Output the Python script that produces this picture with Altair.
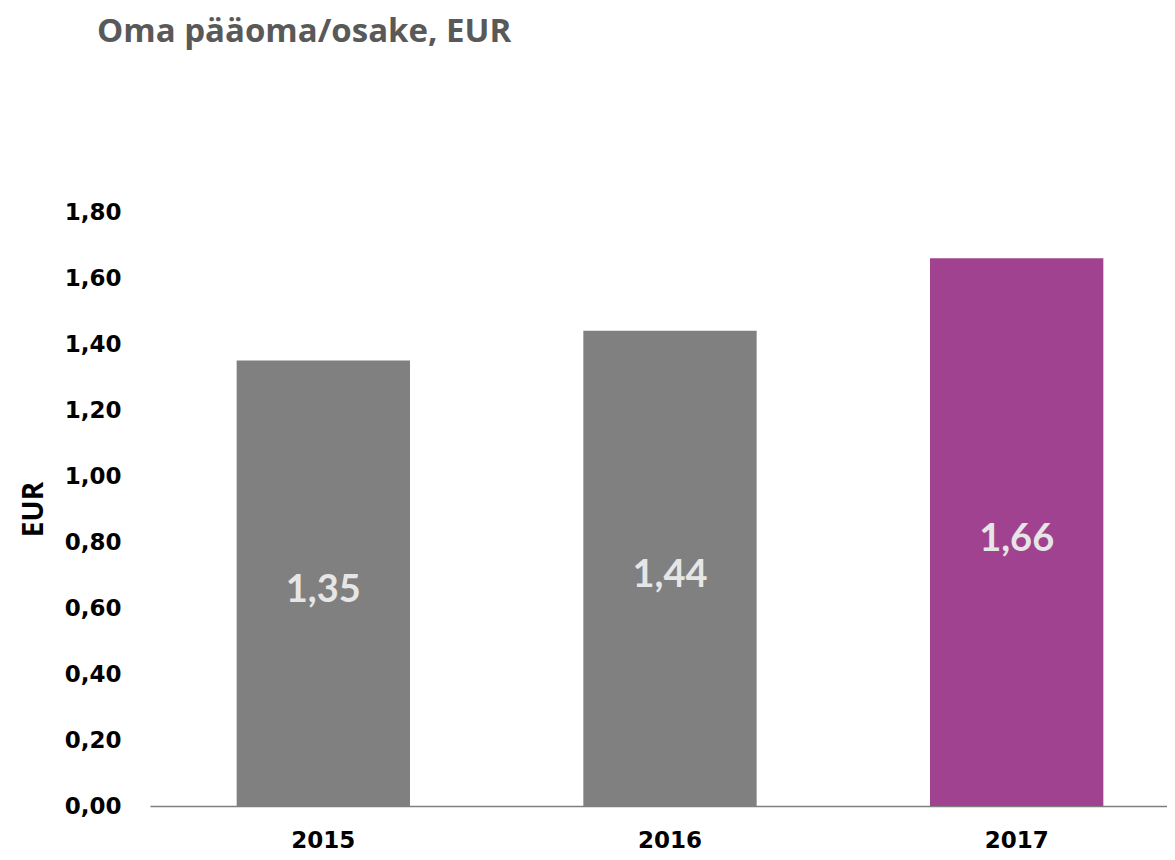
import altair as alt
import pandas as pd

years = ["2015", "2016", "2017"]
values = [1.35, 1.44, 1.66]
colors = ["#808080", "#808080", "#A0428F"]
y_ticks = [0, 0.2, 0.4, 0.6, 0.8, 1.0, 1.2, 1.4, 1.6, 1.8]

df = pd.DataFrame({"year": years, "value": values, "color": colors})

base = alt.Chart(df).encode(
    x=alt.X("year:N", sort=years,
            scale=alt.Scale(range=[0, 1040], paddingInner=0.5, paddingOuter=0.25),
            axis=alt.Axis(title=None, labelAngle=0, labelFont="DejaVu Sans", labelFontWeight="bold",
                          labelFontSize=23, labelColor="#000000", labelPadding=23,
                          ticks=False, domainColor="#7f7f7f", domainWidth=1.3, grid=False)),
)

bars = base.mark_bar().encode(
    y=alt.Y("value:Q", scale=alt.Scale(domain=[0, 1.8], nice=False),
            axis=alt.Axis(title="EUR", values=y_ticks, grid=False, domain=False, ticks=False,
                          labelExpr="replace(format(datum.value, '.2f'), '.', ',')",
                          labelFont="DejaVu Sans", labelFontWeight="bold", labelFontSize=23,
                          labelColor="#000000", labelPadding=29,
                          titleFont="Open Sans", titleFontWeight="bold", titleFontSize=28,
                          titleColor="#000000", titlePadding=16)),
    color=alt.Color("color:N", scale=None),
)

labels = base.transform_calculate(
    mid="datum.value / 2",
    lab="replace(format(datum.value, '.2f'), '.', ',')",
).mark_text(font="Lato", fontWeight="bold", fontSize=38, color="#E6E6E6",
            baseline="middle", dy=8).encode(
    y=alt.Y("mid:Q"),
    text="lab:N",
)

chart = (bars + labels).properties(
    width=1017,
    height=594,
    autosize=alt.AutoSizeParams(type="none"),
    padding={"left": 142, "top": 204, "right": 0, "bottom": 46},
    title=alt.TitleParams("Oma pääoma/osake, EUR", anchor="start", frame="group",
                          font="Open Sans", fontWeight="bold", fontSize=33, color="#595959",
                          dx=-53, offset=152),
).configure_view(stroke=None)

chart.save("out.html", embed_options={"renderer": "svg", "actions": False})
